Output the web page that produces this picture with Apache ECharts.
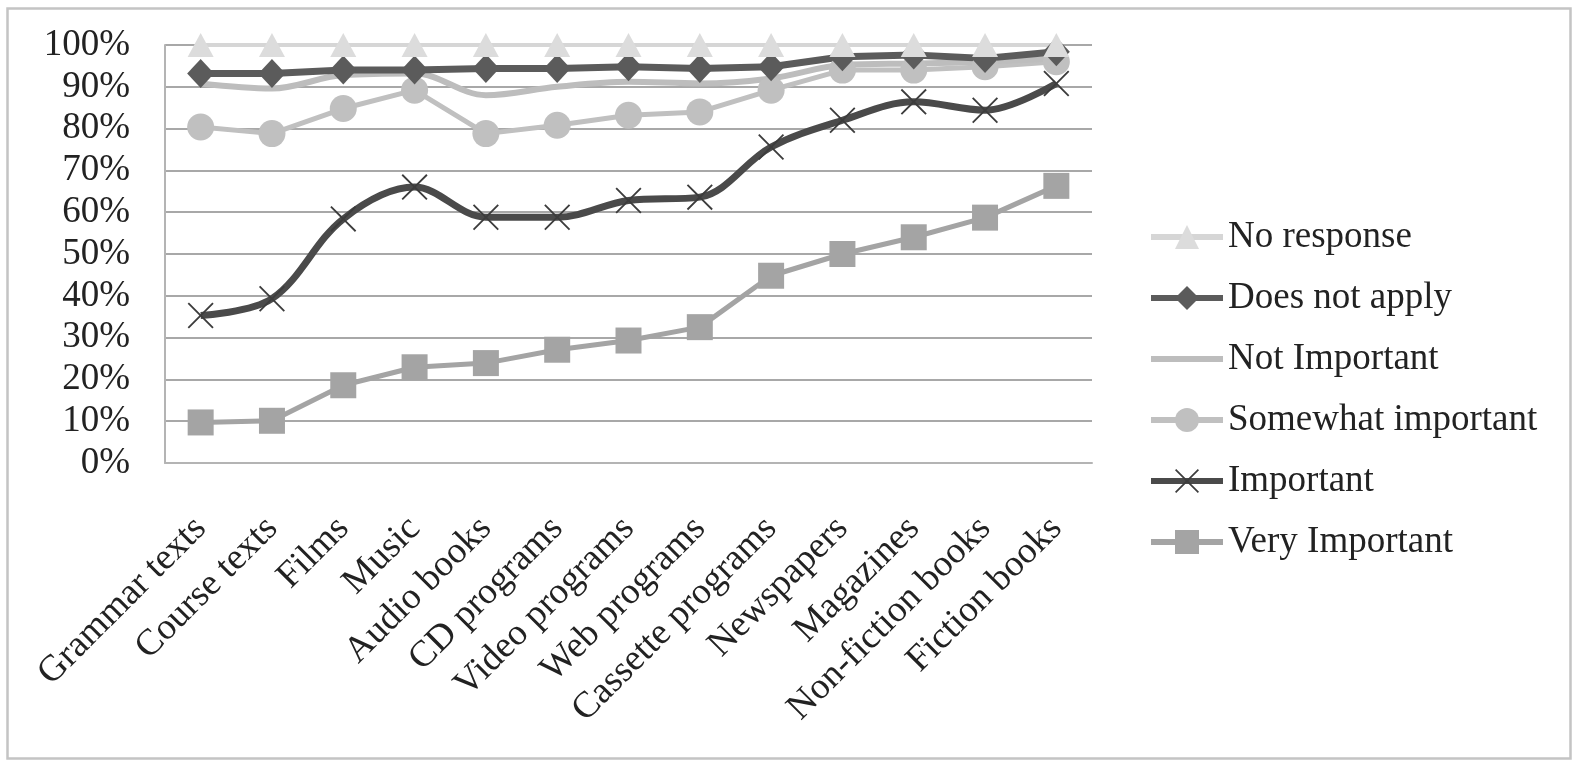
<!DOCTYPE html>
<html>
<head>
<meta charset="utf-8">
<script src="https://cdn.jsdelivr.net/npm/echarts@6/dist/echarts.min.js"></script>
<style>
html,body{margin:0;padding:0;background:#fff;}
#chart{width:1575px;height:763px;}
</style>
</head>
<body>
<div id="chart"></div>
<script>
// Categories (x axis)
const categories = ["Grammar texts","Course texts","Films","Music","Audio books","CD programs","Video programs","Web programs","Cassette programs","Newspapers","Magazines","Non-fiction books","Fiction books"];
// Cumulative percentages as plotted (stacked line chart)
const veryImportant     = [9.7, 10.1, 18.6, 22.9, 23.9, 27.1, 29.3, 32.5, 44.8, 50.0, 54.0, 58.7, 66.3];
const important         = [35.3, 39.3, 58.4, 66.0, 58.8, 58.8, 62.8, 63.6, 75.6, 82.0, 86.4, 84.4, 90.8];
const somewhatImportant = [80.4, 78.8, 84.8, 89.2, 78.8, 80.8, 83.2, 84.0, 89.2, 94.0, 94.0, 94.8, 96.0];
const notImportant      = [90.8, 89.6, 92.8, 93.2, 88.0, 90.0, 91.2, 90.8, 92.0, 95.2, 95.6, 96.0, 96.8];
const doesNotApply      = [93.2, 93.2, 94.0, 94.0, 94.4, 94.4, 94.8, 94.4, 94.8, 97.2, 97.6, 96.8, 98.4];
const noResponse        = [100, 100, 100, 100, 100, 100, 100, 100, 100, 100, 100, 100, 100];
// Y axis ticks
const yTicks = {min: 0, max: 100, interval: 10};
const legendOrder = ["No response","Does not apply","Not Important","Somewhat important","Important","Very Important"];

const FONT = "'Liberation Serif', 'DejaVu Serif', serif";
const FS = 37;
const X_PATH = 'path://M0,1 L1,0 L10,9 L19,0 L20,1 L11,10 L20,19 L19,20 L10,11 L1,20 L0,19 L9,10 Z';

const chart = echarts.init(document.getElementById('chart'), null, {renderer: 'canvas'});
chart.setOption({
  animation: false,
  backgroundColor: '#ffffff',
  graphic: [{
    type: 'rect', left: 5, top: 6, silent: true, z: -10,
    shape: {width: 1563, height: 750},
    style: {fill: 'none', stroke: '#c4c4c4', lineWidth: 2.5}
  }],
  grid: {left: 165, top: 45, right: 483, bottom: 300, containLabel: false},
  legend: {
    data: legendOrder.map(n => n === 'Not Important'
      ? {name: n, itemStyle: {opacity: 0}}
      : {name: n}),
    orient: 'vertical',
    left: 1143, top: 211,
    itemWidth: 72, itemHeight: 30,
    itemGap: 19,
    lineStyle: {width: 6},
    textStyle: {fontFamily: FONT, fontSize: FS, color: '#222', lineHeight: 42}
  },
  xAxis: {
    type: 'category',
    data: categories,
    boundaryGap: true,
    axisLine: {show: true, lineStyle: {color: '#b4b4b4', width: 2}},
    axisTick: {show: false},
    axisLabel: {rotate: 45, margin: 60, interval: 0, fontFamily: FONT, fontSize: FS, color: '#222'}
  },
  yAxis: {
    type: 'value',
    min: yTicks.min, max: yTicks.max, interval: yTicks.interval,
    axisLine: {show: true, lineStyle: {color: '#b4b4b4', width: 2}},
    axisTick: {show: false},
    splitLine: {show: true, lineStyle: {color: '#a8a8a8', width: 2}},
    axisLabel: {formatter: '{value}%', margin: 35, fontFamily: FONT, fontSize: FS, color: '#222'}
  },
  series: [
    {name: 'Very Important', type: 'line', data: veryImportant,
      symbol: 'rect', symbolSize: 26,
      lineStyle: {color: '#a4a4a4', width: 5}, itemStyle: {color: '#a4a4a4'}},
    {name: 'Important', type: 'line', data: important, smooth: 0.35,
      symbol: X_PATH, symbolSize: 26,
      lineStyle: {color: '#4a4a4a', width: 7}, itemStyle: {color: '#3c3c3c'}},
    {name: 'Somewhat important', type: 'line', data: somewhatImportant,
      symbol: 'circle', symbolSize: 27,
      lineStyle: {color: '#c0c0c0', width: 5}, itemStyle: {color: '#c0c0c0'}},
    {name: 'Not Important', type: 'line', data: notImportant, smooth: 0.35,
      symbol: 'none',
      lineStyle: {color: '#bdbdbd', width: 6}, itemStyle: {color: '#bdbdbd'}},
    {name: 'Does not apply', type: 'line', data: doesNotApply,
      symbol: 'diamond', symbolSize: [27, 29],
      lineStyle: {color: '#5b5b5b', width: 7}, itemStyle: {color: '#5b5b5b'}},
    {name: 'No response', type: 'line', data: noResponse,
      symbol: 'triangle', symbolSize: [26, 24],
      lineStyle: {color: '#d6d6d6', width: 4}, itemStyle: {color: '#dcdcdc'}}
  ]
});
</script>
</body>
</html>
